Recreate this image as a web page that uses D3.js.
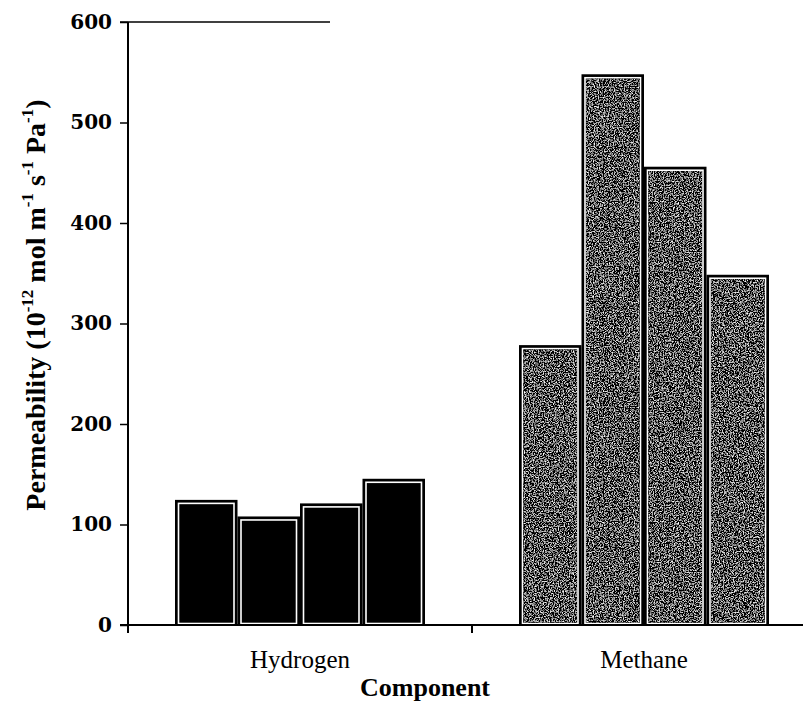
<!DOCTYPE html>
<html><head><meta charset="utf-8">
<script src="https://cdn.jsdelivr.net/npm/d3@7"></script>
<style>body{margin:0;background:#fff}svg{display:block}</style>
</head><body>
<svg id="chart" width="803" height="704"></svg>
<script>
const categories = ["Hydrogen", "Methane"];
const series = ["s1", "s2", "s3", "s4"];
const hydrogenValues = [123.5, 107, 120, 144.5];
const methaneValues = [277.5, 547, 455, 347.5];
const yTicks = [0, 100, 200, 300, 400, 500, 600];

const data = [
  {cat: "Hydrogen", values: hydrogenValues},
  {cat: "Methane", values: methaneValues}
];

const svg = d3.select("#chart");
const serif = "'Liberation Serif','Times New Roman',serif";

const defs = svg.append("defs");
const f = defs.append("filter").attr("id", "speck").attr("x", 0).attr("y", 0).attr("width", 1).attr("height", 1);
f.append("feTurbulence").attr("type", "fractalNoise").attr("baseFrequency", 0.8).attr("numOctaves", 3).attr("seed", 4).attr("result", "n");
f.append("feColorMatrix").attr("in", "n").attr("type", "matrix")
  .attr("values", "2.8 0 0 0 -1.3  2.8 0 0 0 -1.3  2.8 0 0 0 -1.3  0 0 0 0 1").attr("result", "g");
f.append("feComposite").attr("in", "g").attr("in2", "SourceGraphic").attr("operator", "in");

const x0 = d3.scaleBand().domain(categories).range([128, 816]).paddingInner(0).paddingOuter(0);
const x1 = d3.scaleBand().domain(series).range([47, x0.bandwidth() - 47]).padding(0);
const y = d3.scaleLinear().domain([0, 600]).range([625, 22]);

// bars
const groups = svg.append("g").selectAll("g").data(data).join("g")
  .attr("transform", d => `translate(${x0(d.cat)},0)`);
const bars = groups.selectAll("g").data(d => d.values.map((v, i) => ({cat: d.cat, s: series[i], v}))).join("g");
bars.append("rect")
  .attr("x", d => x1(d.s) + 1).attr("width", x1.bandwidth() - 2)
  .attr("y", d => y(d.v)).attr("height", d => y(0) - y(d.v))
  .attr("fill", "#000").attr("stroke", "#000").attr("stroke-width", 2);
bars.append("rect")
  .attr("x", d => x1(d.s) + 3.5).attr("width", x1.bandwidth() - 7)
  .attr("y", d => y(d.v) + 2.5).attr("height", d => y(0) - y(d.v) - 4)
  .attr("fill", "none").attr("stroke", "#fff").attr("stroke-width", 1.6);
bars.filter(d => d.cat === "Methane").append("rect")
  .attr("x", d => x1(d.s) + 4.5).attr("width", x1.bandwidth() - 9)
  .attr("y", d => y(d.v) + 3.5).attr("height", d => y(0) - y(d.v) - 6)
  .attr("fill", "#000").attr("filter", "url(#speck)");

// y axis
const yAxis = svg.append("g").attr("transform", "translate(128,0)")
  .call(d3.axisLeft(y).tickValues(yTicks).tickSize(8).tickSizeOuter(0).tickPadding(8));
yAxis.select(".domain").attr("stroke-width", 2).attr("d", "M0,22V633");
yAxis.selectAll(".tick line").attr("stroke-width", 1.5);
yAxis.selectAll(".tick text").attr("font-family", "'DejaVu Serif',serif").attr("font-weight", "bold")
  .attr("font-size", 20).attr("fill", "#000");

// top line
svg.append("line").attr("x1", 120).attr("x2", 330).attr("y1", y(600)).attr("y2", y(600))
  .attr("stroke", "#000").attr("stroke-width", 1.5);

// x axis
const xAxis = svg.append("g").attr("transform", `translate(0,${y(0)})`)
  .call(d3.axisBottom(x0).tickSize(0).tickPadding(25));
xAxis.select(".domain").attr("stroke-width", 2).attr("d", "M120,0H816");
xAxis.selectAll(".tick text").attr("font-family", serif).attr("font-size", 25).attr("fill", "#000");
xAxis.append("line").attr("x1", x0("Methane")).attr("x2", x0("Methane")).attr("y1", 0).attr("y2", 8)
  .attr("stroke", "#000").attr("stroke-width", 2);

// axis titles
svg.append("text").attr("x", 425).attr("y", 696).attr("text-anchor", "middle")
  .attr("font-family", serif).attr("font-weight", "bold").attr("font-size", 26).text("Component");

const yt = svg.append("text").attr("transform", "translate(45,305) rotate(-90)").attr("text-anchor", "middle")
  .attr("font-family", serif).attr("font-weight", "bold").attr("font-size", 28);
const parts = [["Permeability (10", 0], ["-12", 1], [" mol m", 0], ["-1", 1], [" s", 0], ["-1", 1], [" Pa", 0], ["-1", 1], [")", 0]];
parts.forEach(([t, sup], i) => {
  const ts = yt.append("tspan").text(t);
  if (sup) ts.attr("font-size", 17).attr("dy", -12);
  else if (i > 0) ts.attr("dy", 12);
});
</script>
</body></html>
